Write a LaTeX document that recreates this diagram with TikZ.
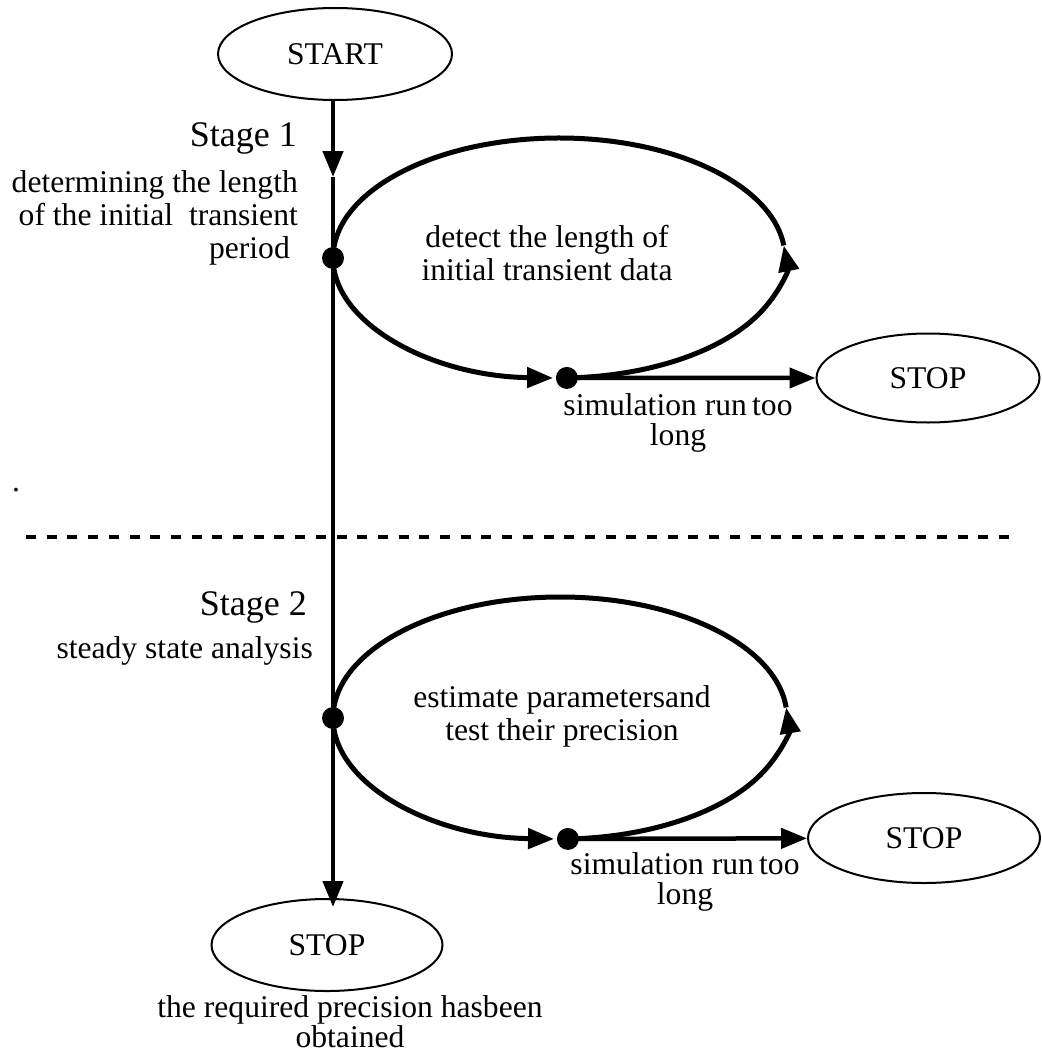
\documentclass[tikz,border=0pt]{standalone}
\usepackage{fontspec}
\setmainfont{Liberation Serif}
\usetikzlibrary{arrows.meta,shapes.geometric,calc}

\tikzset{
    txt/.style={font=\fontsize{31.6}{33}\selectfont, inner sep=0pt},
    stagetxt/.style={font=\fontsize{36}{40}\selectfont, inner sep=0pt},
    term/.style={ellipse, draw, line width=2pt, inner sep=0pt,
        font=\fontsize{31.6}{33}\selectfont},
    dot/.style={circle, fill, inner sep=0pt, minimum size=22pt},
    flow/.style={line width=4.5pt},
    loopline/.style={line width=5pt},
}

\begin{document}
\begin{tikzpicture}[
    x=1pt, y=1pt,
    >={Triangle[length=26pt, width=20pt]}
 ]
\useasboundingbox (0,0) rectangle (1041,-1057);

% terminals
\node[term, minimum width=234pt, minimum height=92pt] (start) at (335,-54) {START};
\node[term, minimum width=223pt, minimum height=89pt] (stopA) at (928,-378) {STOP};
\node[term, minimum width=232pt, minimum height=90pt] (stopB) at (924,-838) {STOP};
\node[term, minimum width=231pt, minimum height=92pt] (stopC) at (327,-945) {STOP};

% loop centres
\coordinate (loopA) at (559,-258);
\coordinate (loopB) at (560,-718);

% junction dots
\node[dot] (dotA) at (333,-258) {};
\node[dot] (dotB) at (333,-718) {};
\node[dot] (exitA) at ($(loopA)+(272:226 and 120)$) {};
\node[dot] (exitB) at ($(loopB)+(272:227 and 121)$) {};
\coordinate (midA) at (333,-177);
\coordinate (endC) at (333,-907);

% labels (multi-line nodes sit on their last baseline)
\node[stagetxt, anchor=base east] (stageA) at (297,-146) {Stage 1};
\node[txt, anchor=base east, align=right] (descA) at (298,-258)
    {determining the length\\of the initial \ transient\\period\hspace*{8pt}};
\node[txt, anchor=base, align=center] (taskA) at (547,-280)
    {detect the length of\\initial transient data};
\node[txt, anchor=base, align=center, font=\fontsize{31.6}{30}\selectfont] (longA) at (678,-445)
    {simulation run\,too\\long};
\node[txt, anchor=base] (speck) at (16,-491) {.};
\node[stagetxt, anchor=base east] (stageB) at (307,-615) {Stage 2};
\node[txt, anchor=base east] (descB) at (313,-658) {steady state analysis};
\node[txt, anchor=base, align=center] (taskB) at (562,-740)
    {estimate parametersand\\test their precision};
\node[txt, anchor=base, align=center, font=\fontsize{31.6}{30}\selectfont] (longB) at (685,-904)
    {simulation run\,too\\long};
\node[txt, anchor=base, align=center, font=\fontsize{31.6}{27}\selectfont] (doneC) at (350,-1047)
    {the required precision hasbeen\\obtained};

% stage separator
\draw[line width=4pt, dash pattern=on 10pt off 10.7pt] (26,-537) -- (1017,-537);

% main flow
\draw[flow, ->] (start.south -| midA) -- (midA);
\draw[flow] (midA) -- (dotA) -- (dotB);
\draw[flow, ->] (dotB) -- (endC);

% stage 1 loop
\draw[loopline, ->] (dotA.center) arc[start angle=180, end angle=268.5, x radius=226, y radius=120];
\draw[loopline, ->] (exitA.center) arc[start angle=272, end angle=366, x radius=226, y radius=120];
\draw[loopline] ($(loopA)+(6:226 and 120)$) arc[start angle=6, end angle=180, x radius=226, y radius=120];
\draw[flow, ->] (exitA) -- (stopA);

% stage 2 loop
\draw[loopline, ->] (dotB.center) arc[start angle=180, end angle=268.5, x radius=227, y radius=121];
\draw[loopline, ->] (exitB.center) arc[start angle=272, end angle=365, x radius=227, y radius=121];
\draw[loopline] ($(loopB)+(5:227 and 121)$) arc[start angle=5, end angle=180, x radius=227, y radius=121];
\draw[flow, ->] (exitB) -- (stopB);

\end{tikzpicture}
\end{document}
